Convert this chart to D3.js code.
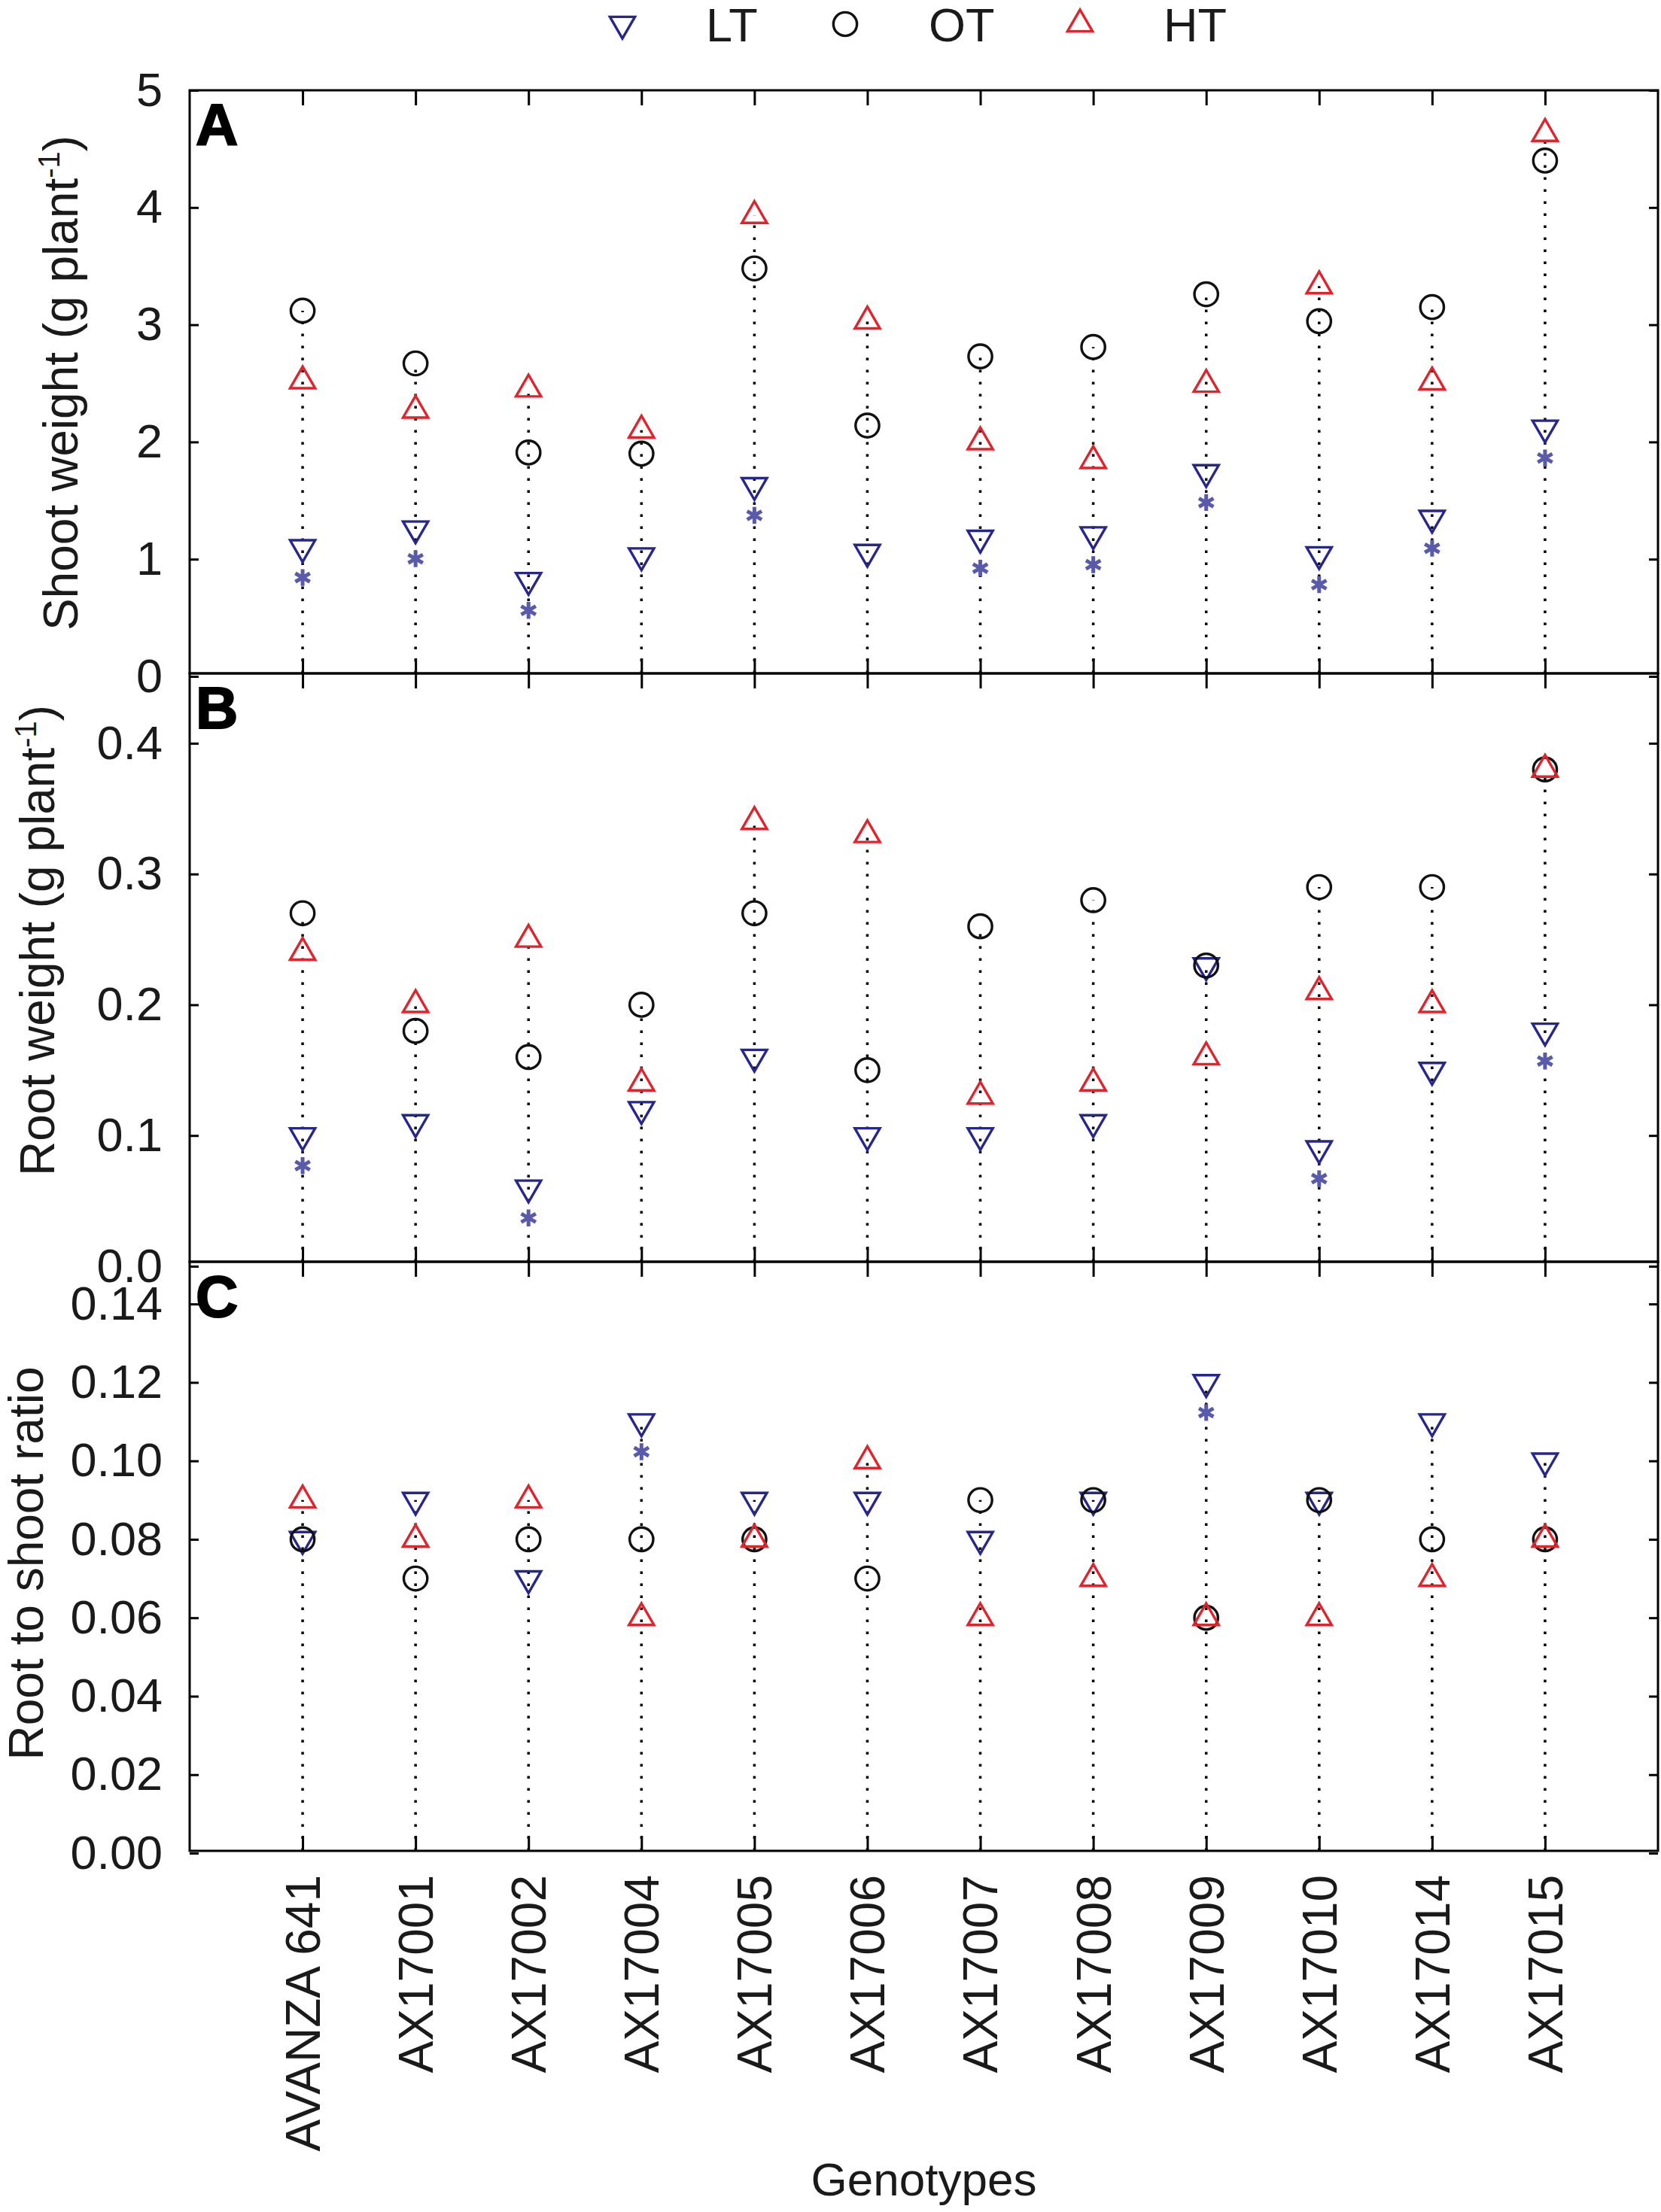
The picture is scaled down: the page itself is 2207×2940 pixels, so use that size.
<!DOCTYPE html>
<html>
<head>
<meta charset="utf-8">
<script src="https://cdn.jsdelivr.net/npm/d3@7"></script>
<style>
  body { margin: 0; background: #fff; }
  svg { display: block; font-family: "Liberation Sans", Arial, sans-serif; }
</style>
</head>
<body>
<svg id="chart" width="2207" height="2940"></svg>
<script>
// categories
const genotypes = ["AVANZA 641", "AX17001", "AX17002", "AX17004", "AX17005", "AX17006",
                   "AX17007", "AX17008", "AX17009", "AX17010", "AX17014", "AX17015"];
const treatments = ["LT", "OT", "HT"];

// A - shoot weight (g plant-1)
const shootLT = [1.10, 1.26, 0.82, 1.03, 1.63, 1.06, 1.18, 1.21, 1.74, 1.04, 1.35, 2.12];
const shootOT = [3.12, 2.67, 1.91, 1.90, 3.48, 2.14, 2.73, 2.81, 3.26, 3.03, 3.15, 4.40];
const shootHT = [2.52, 2.27, 2.45, 2.10, 3.93, 3.03, 2.00, 1.84, 2.49, 3.33, 2.51, 4.63];
const shootSig = [1, 1, 1, 0, 1, 0, 1, 1, 1, 1, 1, 1];

// B - root weight (g plant-1)
const rootLT = [0.10, 0.11, 0.06, 0.12, 0.16, 0.10, 0.10, 0.11, 0.23, 0.09, 0.15, 0.18];
const rootOT = [0.27, 0.18, 0.16, 0.20, 0.27, 0.15, 0.26, 0.28, 0.23, 0.29, 0.29, 0.38];
const rootHT = [0.24, 0.20, 0.25, 0.14, 0.34, 0.33, 0.13, 0.14, 0.16, 0.21, 0.20, 0.38];
const rootSig = [1, 0, 1, 0, 0, 0, 0, 0, 0, 1, 0, 1];

// C - root to shoot ratio
const ratioLT = [0.08, 0.09, 0.07, 0.11, 0.09, 0.09, 0.08, 0.09, 0.12, 0.09, 0.11, 0.10];
const ratioOT = [0.08, 0.07, 0.08, 0.08, 0.08, 0.07, 0.09, 0.09, 0.06, 0.09, 0.08, 0.08];
const ratioHT = [0.09, 0.08, 0.09, 0.06, 0.08, 0.10, 0.06, 0.07, 0.06, 0.06, 0.07, 0.08];
const ratioSig = [0, 0, 0, 1, 0, 0, 0, 0, 1, 0, 0, 0];

// tick labels
const shootTicks = [0, 1, 2, 3, 4, 5];
const rootTicks = [0, 0.1, 0.2, 0.3, 0.4];
const ratioTicks = [0, 0.02, 0.04, 0.06, 0.08, 0.10, 0.12, 0.14];

const colors = { LT: "#26268f", OT: "#111111", HT: "#e3222b" };
const starColor = "#5a5aab";
const font = "'Liberation Sans', Arial, sans-serif";

const svg = d3.select("#chart");
svg.append("rect").attr("width", 2207).attr("height", 2940).attr("fill", "#fff");

const left = 252, right = 2203;
const x = d3.scalePoint().domain(genotypes).range([left, right]).padding(1);

const panels = [
  { label: "A", title: "Shoot weight (g plant", sup: true, LT: shootLT, OT: shootOT, HT: shootHT,
    sig: shootSig, ticks: shootTicks, fmt: d3.format("d"), domain: [0, 5],
    frame: [120, 895], range: [899, 120], titleX: 103, titleY: 509 },
  { label: "B", title: "Root weight (g plant", sup: true, LT: rootLT, OT: rootOT, HT: rootHT,
    sig: rootSig, ticks: rootTicks, fmt: d3.format(".1f"), domain: [0, 0.45],
    frame: [895, 1677], range: [1683, 901], titleX: 72, titleY: 1250 },
  { label: "C", title: "Root to shoot ratio", sup: false, LT: ratioLT, OT: ratioOT, HT: ratioHT,
    sig: ratioSig, ticks: ratioTicks, fmt: d3.format(".2f"), domain: [0, 0.15],
    frame: [1677, 2460], range: [2463, 1681], titleX: 57, titleY: 2078 }
];

// symbols
const triSize = 480, circSize = 770;
const asterisk = {
  draw(ctx, size) {
    const r = Math.sqrt(size) / 2, t = r / 2, u = t * Math.sqrt(3);
    ctx.moveTo(0, -r); ctx.lineTo(0, r);
    ctx.moveTo(-u, -t); ctx.lineTo(u, t);
    ctx.moveTo(-u, t); ctx.lineTo(u, -t);
  }
};
const symbolPath = {
  LT: d3.symbol().type(d3.symbolTriangle).size(triSize)(),
  OT: d3.symbol().type(d3.symbolCircle).size(circSize)(),
  HT: d3.symbol().type(d3.symbolTriangle).size(triSize)()
};
const symbolRot = { LT: 180, OT: 0, HT: 0 };
const starPath = d3.symbol().type(asterisk).size(500)();

function styleAxis(g) {
  g.select(".domain").remove();
  g.attr("font-family", font).attr("font-size", 63);
  g.selectAll(".tick line").attr("stroke", "#000").attr("stroke-width", 3);
  g.selectAll(".tick text").attr("fill", "#1a1a1a");
}

panels.forEach((p, pi) => {
  const y = d3.scaleLinear().domain(p.domain).range(p.range);
  const g = svg.append("g");
  const top = p.frame[0], bottom = p.frame[1];

  // y axes (ticks inward)
  g.append("g").attr("transform", `translate(${left},0)`)
    .call(d3.axisLeft(y).tickValues(p.ticks).tickFormat(p.fmt).tickSize(-12).tickPadding(36))
    .call(styleAxis);
  g.append("g").attr("transform", `translate(${right},0)`)
    .call(d3.axisRight(y).tickValues(p.ticks).tickFormat("").tickSize(-12))
    .call(styleAxis);

  // x ticks top & bottom (inward)
  g.append("g").attr("transform", `translate(0,${top})`)
    .call(d3.axisTop(x).tickSize(-20).tickFormat(""))
    .call(styleAxis);
  const xb = g.append("g").attr("transform", `translate(0,${bottom})`)
    .call(d3.axisBottom(x).tickSize(-20).tickFormat(pi === panels.length - 1 ? null : ""))
    .call(styleAxis);
  if (pi === panels.length - 1) {
    xb.selectAll(".tick text")
      .attr("transform", "rotate(-90)")
      .attr("x", -32).attr("y", 0).attr("dy", "0.35em")
      .attr("text-anchor", "end")
      .attr("font-size", 64);
  }

  // frame
  g.append("rect").attr("x", left).attr("y", top)
    .attr("width", right - left).attr("height", bottom - top)
    .attr("fill", "none").attr("stroke", "#000").attr("stroke-width", 3);

  // dotted drop lines to the highest value
  const rows = genotypes.map((gname, i) => ({
    g: gname, LT: p.LT[i], OT: p.OT[i], HT: p.HT[i], sig: p.sig[i]
  }));
  g.selectAll(".drop").data(rows).join("line")
    .attr("x1", d => x(d.g)).attr("x2", d => x(d.g))
    .attr("y1", bottom).attr("y2", d => y(Math.max(d.LT, d.OT, d.HT)))
    .attr("stroke", "#000").attr("stroke-width", 3.5)
    .attr("stroke-dasharray", "3.5 12.5");

  // markers
  treatments.forEach(t => {
    g.selectAll(".m" + t).data(rows).join("path")
      .attr("d", symbolPath[t])
      .attr("transform", d => `translate(${x(d.g)},${y(d[t])}) rotate(${symbolRot[t]})`)
      .attr("fill", "none").attr("stroke", colors[t]).attr("stroke-width", 3.4)
      .attr("stroke-linejoin", "miter");
  });

  // significance asterisks under LT
  g.selectAll(".star").data(rows.filter(d => d.sig)).join("path")
    .attr("d", starPath)
    .attr("transform", d => `translate(${x(d.g)},${y(d.LT) + 40})`)
    .attr("fill", "none").attr("stroke", starColor).attr("stroke-width", 5);

  // panel letter
  g.append("text").attr("x", 260).attr("y", top + 73)
    .attr("font-family", font).attr("font-size", 78).attr("font-weight", "bold")
    .attr("stroke", "#000").attr("stroke-width", 2)
    .text(p.label);

  // y title
  const tt = g.append("text")
    .attr("transform", `translate(${p.titleX},${p.titleY}) rotate(-90)`)
    .attr("text-anchor", "middle")
    .attr("font-family", font).attr("font-size", 64).attr("fill", "#1a1a1a");
  tt.append("tspan").text(p.title);
  if (p.sup) {
    tt.append("tspan").attr("dy", -24).attr("font-size", 40).text("-1");
    tt.append("tspan").attr("dy", 24).text(")");
  }
});

// legend
const legendX = [827, 1123, 1435];
const legend = svg.append("g");
treatments.forEach((t, i) => {
  legend.append("path").attr("d", symbolPath[t])
    .attr("transform", `translate(${legendX[i]},32) rotate(${symbolRot[t]})`)
    .attr("fill", "none").attr("stroke", colors[t]).attr("stroke-width", 3.4);
  legend.append("text").attr("x", legendX[i] + 111).attr("y", 55)
    .attr("font-family", font).attr("font-size", 63).attr("fill", "#1a1a1a")
    .text(t);
});

// x title
svg.append("text").attr("x", (left + right) / 2).attr("y", 2918)
  .attr("text-anchor", "middle").attr("font-family", font).attr("font-size", 62)
  .attr("fill", "#1a1a1a").text("Genotypes");
</script>
</body>
</html>
